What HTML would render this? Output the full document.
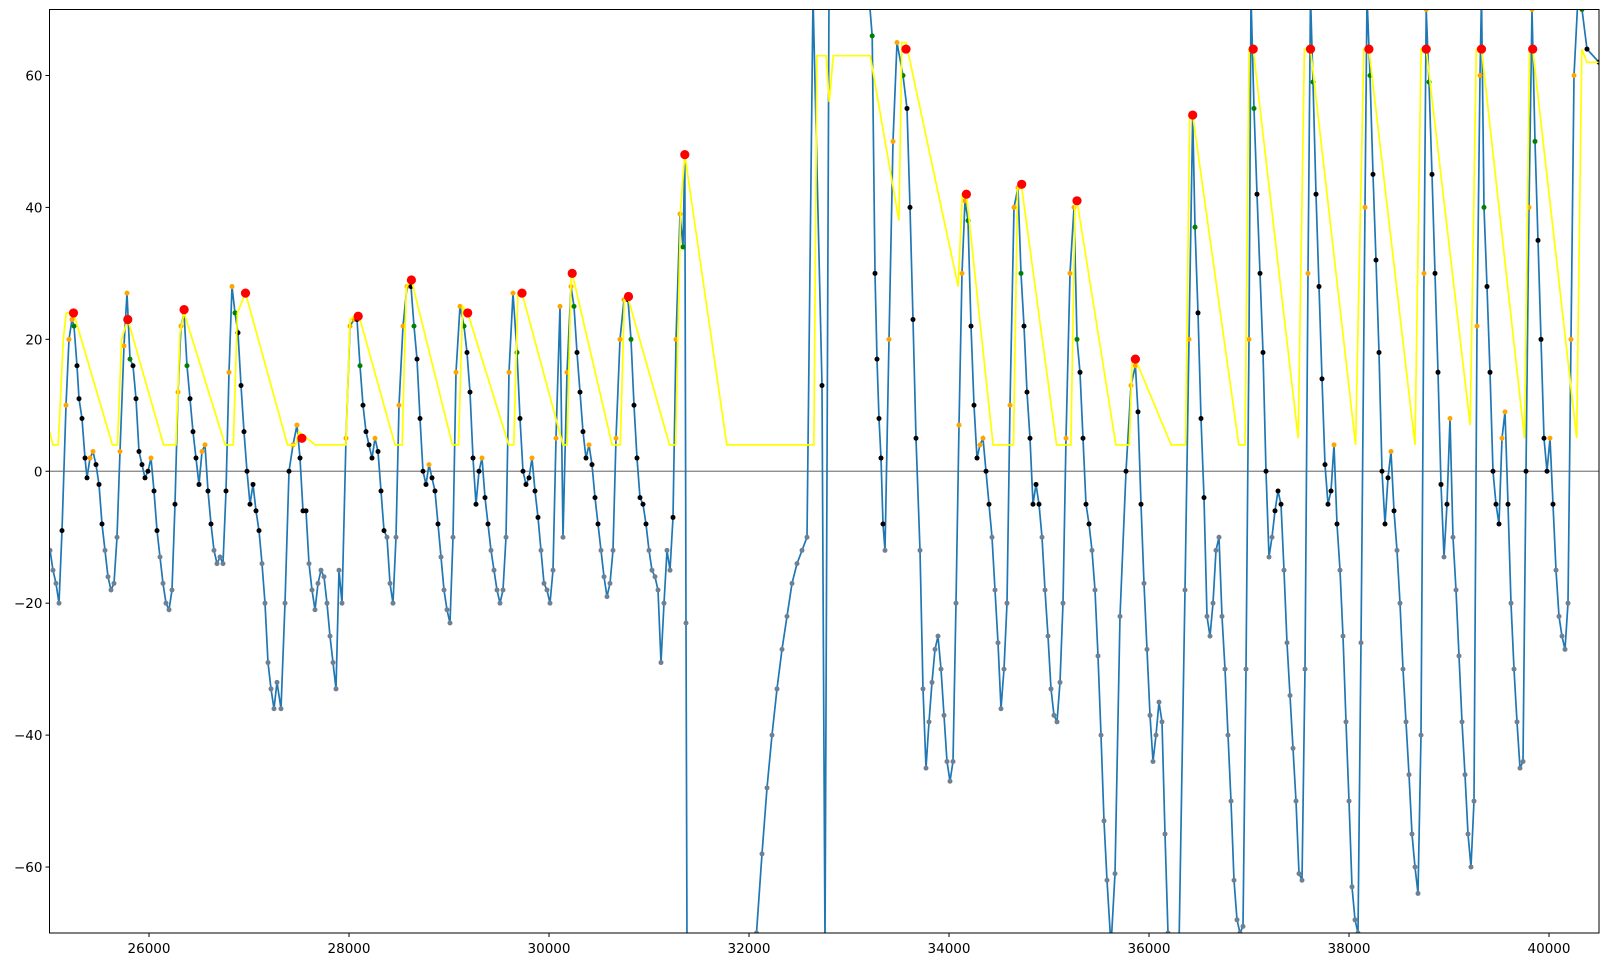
<!DOCTYPE html>
<html><head><meta charset="utf-8"><style>
html,body{margin:0;padding:0;background:#fff;width:1609px;height:967px;overflow:hidden;}
svg{display:block;position:absolute;left:0;top:0;overflow:hidden;font-family:"DejaVu Sans","Liberation Sans",sans-serif;}
</style></head><body>
<svg id="chart" width="1609" height="967" viewBox="0 0 1609 967"></svg>
<script>
const blueX=[25010,25040,25070,25100,25130,25170,25200,25230,25250,25280,25300,25330,25360,25380,25410,25440,25470,25500,25530,25560,25590,25620,25650,25680,25710,25750,25780,25810,25840,25870,25900,25930,25960,25990,26020,26050,26080,26110,26140,26170,26200,26230,26260,26290,26320,26350,26380,26410,26440,26470,26500,26530,26560,26590,26620,26650,26680,26710,26740,26770,26800,26830,26860,26890,26920,26950,26980,27010,27040,27070,27100,27130,27160,27190,27220,27250,27280,27320,27360,27400,27440,27480,27510,27540,27570,27600,27630,27660,27690,27720,27750,27780,27810,27840,27870,27900,27930,27970,28010,28050,28080,28110,28140,28170,28200,28230,28260,28290,28320,28350,28380,28410,28440,28470,28500,28540,28580,28620,28650,28680,28710,28740,28770,28800,28830,28860,28890,28920,28950,28980,29010,29040,29070,29110,29150,29180,29210,29240,29270,29300,29330,29360,29390,29420,29450,29480,29510,29540,29570,29600,29640,29680,29710,29740,29770,29800,29830,29860,29890,29920,29950,29980,30010,30040,30070,30110,30140,30180,30220,30250,30280,30310,30340,30370,30400,30430,30460,30490,30520,30550,30580,30610,30640,30670,30710,30750,30790,30820,30850,30880,30910,30940,30970,31000,31030,31060,31090,31120,31150,31180,31210,31240,31270,31310,31340,31358,31370,31380,32075,32130,32180,32230,32280,32330,32380,32430,32480,32530,32580,32640,32730,32760,32800,32840,33200,33232,33260,33280,33300,33320,33340,33360,33400,33440,33480,33540,33580,33610,33640,33670,33710,33740,33770,33800,33830,33860,33890,33920,33950,33980,34010,34040,34070,34100,34130,34160,34190,34220,34250,34280,34310,34340,34370,34400,34430,34460,34490,34520,34550,34580,34610,34650,34690,34720,34750,34780,34810,34840,34870,34900,34930,34960,34990,35020,35050,35080,35110,35140,35170,35210,35250,35280,35310,35340,35370,35400,35430,35460,35490,35520,35550,35580,35620,35660,35710,35770,35820,35864,35890,35920,35950,35980,36010,36040,36070,36100,36130,36160,36190,36220,36300,36360,36400,36437,36460,36490,36520,36550,36580,36610,36640,36670,36700,36730,36760,36790,36820,36850,36880,36910,36940,36970,37000,37020,37050,37080,37110,37140,37170,37200,37230,37260,37290,37320,37350,37380,37410,37440,37470,37500,37530,37560,37590,37615,37640,37670,37700,37730,37760,37790,37820,37850,37880,37910,37940,37970,38000,38030,38060,38090,38120,38160,38180,38210,38240,38270,38300,38330,38360,38390,38420,38450,38480,38510,38540,38570,38600,38630,38660,38690,38720,38750,38772,38800,38830,38860,38890,38920,38950,38980,39010,39040,39070,39100,39130,39160,39190,39220,39250,39280,39310,39325,39350,39380,39410,39440,39470,39500,39530,39560,39590,39620,39650,39680,39710,39740,39770,39800,39830,39860,39890,39920,39950,39980,40010,40040,40070,40100,40130,40160,40190,40220,40250,40290,40330,40380,40500];
const blueY=[-12,-15,-17,-20,-9,10,20,23,22,16,11,8,2,-1,2,3,1,-2,-8,-12,-16,-18,-17,-10,3,19,27,17,16,11,3,1,-1,0,2,-3,-9,-13,-17,-20,-21,-18,-5,12,22,24,16,11,6,2,-2,3,4,-3,-8,-12,-14,-13,-14,-3,15,28,24,21,13,6,0,-5,-2,-6,-9,-14,-20,-29,-33,-36,-32,-36,-20,0,4,7,2,-6,-6,-14,-18,-21,-17,-15,-16,-20,-25,-29,-33,-15,-20,5,22,23,23,16,10,6,4,2,5,3,-3,-9,-10,-17,-20,-10,10,22,28,28,22,17,8,0,-2,1,-1,-3,-8,-13,-18,-21,-23,-10,15,25,22,18,12,2,-5,0,2,-4,-8,-12,-15,-18,-20,-18,-10,15,27,18,8,0,-2,-1,2,-3,-7,-12,-17,-18,-20,-15,5,25,-10,15,28,25,18,12,6,2,4,1,-4,-8,-12,-16,-19,-17,-12,5,20,26,26,20,10,2,-4,-5,-8,-12,-15,-16,-18,-29,-20,-12,-15,-7,20,39,34,48,-23,-72,-70,-58,-48,-40,-33,-27,-22,-17,-14,-12,-10,72,13,-72,72,72,72,66,30,17,8,2,-8,-12,20,50,65,60,55,40,23,5,-12,-33,-45,-38,-32,-27,-25,-30,-37,-44,-47,-44,-20,7,30,41,38,22,10,2,4,5,0,-5,-10,-18,-26,-36,-30,-20,10,40,43,30,22,12,5,-5,-2,-5,-10,-18,-25,-33,-37,-38,-32,-20,5,30,40,20,15,5,-5,-8,-12,-18,-28,-40,-53,-62,-72,-61,-22,0,13,16,9,-5,-17,-27,-37,-44,-40,-35,-38,-55,-70,-72,-72,-18,20,54,37,24,8,-4,-22,-25,-20,-12,-10,-22,-30,-40,-50,-62,-68,-70,-69,-30,20,72,55,42,30,18,0,-13,-10,-6,-3,-5,-15,-26,-34,-42,-50,-61,-62,-30,30,72,59,42,28,14,1,-5,-3,4,-8,-15,-25,-38,-50,-63,-68,-70,-26,40,72,60,45,32,18,0,-8,-1,3,-6,-12,-20,-30,-38,-46,-55,-60,-64,-40,30,70,59,45,30,15,-2,-13,-5,8,-10,-18,-28,-38,-46,-55,-60,-50,22,60,72,40,28,15,0,-5,-8,5,9,-5,-20,-30,-38,-45,-44,0,40,70,50,35,20,5,0,5,-5,-15,-22,-25,-27,-20,20,60,72,70,64,62];
const envX=[25005,25040,25092,25112,25143,25173,25245,25634,25685,25726,25788,26146,26269,26310,26351,26761,26843,26884,26965,27385,27467,27498,27662,27969,28010,28092,28460,28532,28573,28624,29034,29095,29136,29187,29597,29648,29689,29730,30140,30181,30222,30232,30631,30713,30754,30795,31205,31266,31317,31358,31778,32649,32679,32772,32802,32843,33212,33499,33529,33570,34092,34133,34174,34441,34645,34686,34727,35076,35219,35260,35280,35669,35803,35833,35864,36222,36366,36407,36437,36898,36960,37001,37042,37492,37554,37615,38066,38148,38199,38660,38721,38772,39212,39273,39325,39755,39806,39837,40277,40328,40379,40500];
const envY=[6,4,4,10,20,24,24,4,4,20,23,4,4,21,24,4,4,24,27,4,4,6,4,4,23,24,4,4,28,29,4,4,25,24,4,4,27,27,4,4,30,30,4,4,26,26,4,4,40,48,4,4,63,63,56,63,63,38,65,65,28,42,42,4,4,43,43,4,4,41,41,4,4,17,17,4,4,54,54,4,4,64,64,5,64,64,4,64,64,4,64,64,7,64,64,5,64,64,5,64,62,62];
const peakX=[25245,25788,26351,26965,27529,28092,28624,29187,29730,30232,30795,31358,33570,34174,34727,35280,35864,36437,37042,37615,38199,38772,39325,39837];
const peakY=[24,23,24.5,27,5,23.5,29,24,27,30,26.5,48,64,42,43.5,41,17,54,64,64,64,64,64,64];
const xTicks=[26000,28000,30000,32000,34000,36000,38000,40000];
const yTicks=[-60,-40,-20,0,20,40,60];

const NS="http://www.w3.org/2000/svg";
const svg=document.getElementById('chart');
const L=49.5,R=1599,T=9.5,B=933,X0=25005,X1=40500,Y0=-70,Y1=70;
const sx=v=>L+(v-X0)/(X1-X0)*(R-L);
const sy=v=>B-(v-Y0)/(Y1-Y0)*(B-T);
function mk(tag,attrs,parent){const e=document.createElementNS(NS,tag);for(const k in attrs)e.setAttribute(k,attrs[k]);(parent||svg).appendChild(e);return e;}
const defs=mk('defs',{});const cp=mk('clipPath',{id:'clip'},defs);mk('rect',{x:L,y:T,width:R-L,height:B-T},cp);
const plot=mk('g',{'clip-path':'url(#clip)'});


const zl=mk('line',{x1:L,x2:R,y1:sy(0),y2:sy(0),stroke:'#808080','stroke-width':1.2},plot);


let d='';blueX.forEach((x,i)=>{d+=(i?'L':'M')+sx(x).toFixed(1)+','+sy(blueY[i]).toFixed(1);});
const bl=mk('path',{d:d,fill:'none',stroke:'#1f77b4','stroke-width':1.7},plot);


const dots=mk('g',{},plot);


blueX.forEach((x,i)=>{const y=blueY[i];if(Math.abs(y)>70)return;const p=i?blueY[i-1]:y;
 let c='#708090';if(y>p&&y>0)c='#ffa500';else if(p>y&&p>=(i>1?blueY[i-2]:p)&&y>15)c='#008000';else if(y>-10)c='#000000';
 const e=mk('circle',{cx:sx(x),cy:sy(y),r:2.5,fill:c},dots);
 
 });
let d2='';envX.forEach((x,i)=>{d2+=(i?'L':'M')+sx(x).toFixed(1)+','+sy(envY[i]).toFixed(1);});
const yl=mk('path',{d:d2,fill:'none',stroke:'#ffff00','stroke-width':1.7},plot);


peakX.forEach((x,i)=>{const e=mk('circle',{cx:sx(x),cy:sy(peakY[i]),r:4.6,fill:'#ff0000'},plot);
 
 });
const fr=mk('rect',{x:L,y:T,width:R-L,height:B-T,fill:'none',stroke:'#000','stroke-width':1});


xTicks.forEach(t=>{const x=sx(t);mk('line',{x1:x,x2:x,y1:B,y2:B+4,stroke:'#000'});
 const e=mk('text',{x:x,y:B+20,'font-size':13.5,'text-anchor':'middle',fill:'#000'});e.textContent=t;
 
 });
yTicks.forEach(t=>{const y=sy(t);mk('line',{x1:L-4,x2:L,y1:y,y2:y,stroke:'#000'});
 const e=mk('text',{x:L-7,y:y+5,'font-size':13.5,'text-anchor':'end',fill:'#000'});e.textContent=(t<0?'\u2212'+(-t):t);
 
 });
</script>
</body></html>
